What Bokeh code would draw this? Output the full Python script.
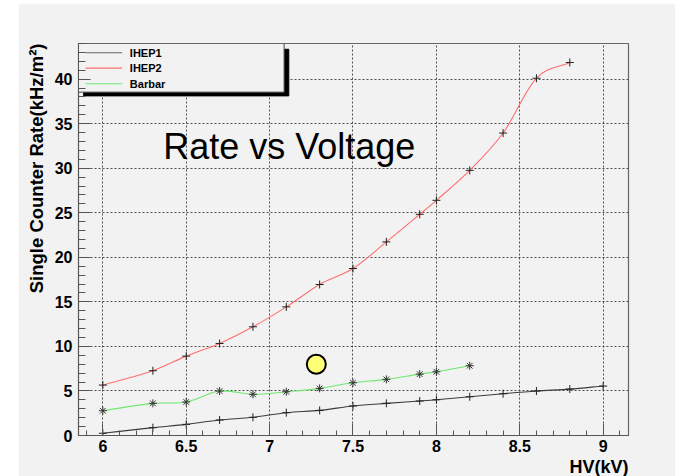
import numpy as np
from bokeh.plotting import figure
from bokeh.models import (Range1d, SingleIntervalTicker, CustomJSTickFormatter,
                          Label, Title, ColumnDataSource, Spacer)
from bokeh.layouts import row, column
from bokeh.embed import file_html
from bokeh.resources import INLINE

# Measured single counter rates (kHz/m^2) versus high voltage (kV)
ihep1_hv = [6.0, 6.3, 6.5, 6.7, 6.9, 7.1, 7.3, 7.5, 7.7, 7.9, 8.0, 8.2, 8.4, 8.6, 8.8, 9.0]
ihep1_rate = [0.25, 0.88, 1.25, 1.74, 2.04, 2.56, 2.82, 3.31, 3.61, 3.87, 4.01, 4.35, 4.69, 4.99, 5.21, 5.55]

ihep2_hv = [6.0, 6.3, 6.5, 6.7, 6.9, 7.1, 7.3, 7.5, 7.7, 7.9, 8.0, 8.2, 8.4, 8.6, 8.8]
ihep2_rate = [5.66, 7.27, 8.91, 10.33, 12.2, 14.44, 16.95, 18.74, 21.73, 24.83, 26.4, 29.76, 33.95, 40.1, 41.87]

barbar_hv = [6.0, 6.3, 6.5, 6.7, 6.9, 7.1, 7.3, 7.5, 7.7, 7.9, 8.0, 8.2]
barbar_rate = [2.78, 3.61, 3.76, 4.99, 4.62, 4.91, 5.29, 5.92, 6.3, 6.89, 7.15, 7.83]

highlight_hv = [7.28]
highlight_rate = [8.0]

series_names = ["IHEP1", "IHEP2", "Barbar"]

BG = "#f2f2f2"
FONT = "Liberation Sans"


def smooth_segments(xs, ys):
    """Cubic Hermite pieces (as Bezier controls) through the measured points."""
    xs = np.asarray(xs, dtype=float)
    ys = np.asarray(ys, dtype=float)
    slopes = np.empty_like(ys)
    slopes[0] = (ys[1] - ys[0]) / (xs[1] - xs[0])
    slopes[-1] = (ys[-1] - ys[-2]) / (xs[-1] - xs[-2])
    slopes[1:-1] = (ys[2:] - ys[:-2]) / (xs[2:] - xs[:-2])
    h = np.diff(xs)
    return ColumnDataSource(dict(
        x0=xs[:-1], y0=ys[:-1], x1=xs[1:], y1=ys[1:],
        cx0=xs[:-1] + h / 3, cy0=ys[:-1] + slopes[:-1] * h / 3,
        cx1=xs[1:] - h / 3, cy1=ys[1:] - slopes[1:] * h / 3,
    ))


p = figure(width=657, height=473,
           x_range=Range1d(5.854, 9.152), y_range=Range1d(0, 44.0),
           output_backend="svg", toolbar_location=None,
           min_border_left=60, min_border_right=47,
           min_border_top=40, min_border_bottom=40,
           background_fill_color=BG, border_fill_color=BG)

p.outline_line_color = "#666666"
p.outline_line_width = 1.2

xticker = SingleIntervalTicker(interval=0.5, num_minor_ticks=5)
yticker = SingleIntervalTicker(interval=5, num_minor_ticks=5)
p.xaxis.ticker = xticker
p.yaxis.ticker = yticker
p.xgrid.ticker = xticker
p.ygrid.ticker = yticker
p.xaxis.formatter = CustomJSTickFormatter(code="return tick.toFixed(1).replace(/\\.0$/, '');")

for ax in (p.xaxis[0], p.yaxis[0]):
    ax.axis_line_color = "#555555"
    ax.major_tick_line_color = "#555555"
    ax.minor_tick_line_color = "#555555"
    ax.major_tick_out = 0
    ax.minor_tick_out = 0
    ax.major_tick_in = 12
    ax.major_label_text_font = FONT
    ax.major_label_text_font_style = "bold"
    ax.major_label_text_font_size = "16px"
    ax.major_label_text_color = "black"
p.xaxis.minor_tick_in = 5
p.yaxis.minor_tick_in = 7
p.xaxis.major_label_standoff = 4
p.yaxis.major_label_standoff = 6

for g in (p.xgrid[0], p.ygrid[0]):
    g.grid_line_color = "#333333"
    g.grid_line_dash = "2 2"
    g.grid_line_width = 1
    g.grid_line_alpha = 0.85

line_colors = ["#3c3c3c", "#ff6e6e", "#6ee86e"]

# curves through the points
p.bezier(x0="x0", y0="y0", x1="x1", y1="y1", cx0="cx0", cy0="cy0", cx1="cx1", cy1="cy1",
         source=smooth_segments(ihep1_hv, ihep1_rate), line_color=line_colors[0], line_width=1.1)
p.bezier(x0="x0", y0="y0", x1="x1", y1="y1", cx0="cx0", cy0="cy0", cx1="cx1", cy1="cy1",
         source=smooth_segments(ihep2_hv, ihep2_rate), line_color=line_colors[1], line_width=1.1)
p.bezier(x0="x0", y0="y0", x1="x1", y1="y1", cx0="cx0", cy0="cy0", cx1="cx1", cy1="cy1",
         source=smooth_segments(barbar_hv, barbar_rate), line_color=line_colors[2], line_width=1.1)

# point markers
p.scatter(ihep1_hv, ihep1_rate, marker="cross", size=8, line_color="#222222", line_width=1)
p.scatter(ihep2_hv, ihep2_rate, marker="cross", size=8, line_color="#222222", line_width=1)
p.scatter(barbar_hv, barbar_rate, marker="asterisk", size=8, line_color="#333333", line_width=1)

# highlighted point
p.scatter(highlight_hv, highlight_rate, marker="circle", size=19,
          fill_color="#ffff77", line_color="black", line_width=2)

# legend box with drop shadow
p.quad(left=[5.885], right=[7.115], bottom=[38.12], top=[43.35],
       fill_color="black", line_color="black")
p.quad(left=[5.854], right=[7.087], bottom=[38.54], top=[44.0],
       fill_color=BG, line_color="#444444", line_width=1)
legend_rows = [42.96, 41.23, 39.48]
for name, color, yy in zip(series_names, ["#666666", "#ff6e6e", "#6ee86e"], legend_rows):
    p.line([5.896, 6.116], [yy, yy], line_color=color, line_width=1.2)
    p.add_layout(Label(x=6.162, y=yy, text=name, text_font=FONT, text_font_style="bold",
                       text_font_size="11px", text_baseline="middle", text_color="black"))

# plot title inside the frame
p.add_layout(Label(x=6.362, y=32.46, text="Rate vs Voltage", text_font=FONT,
                   text_font_size="36px", text_baseline="alphabetic", text_color="black"))

# axis titles, aligned to the far end of each axis
p.add_layout(Title(text="HV(kV)", align="right", text_font=FONT, text_font_style="bold",
                   text_font_size="18px", text_color="black", standoff=0), "below")
p.add_layout(Title(text="Single Counter Rate(kHz/m²)", align="right", text_font=FONT,
                   text_font_style="bold", text_font_size="18.5px", text_color="black",
                   standoff=9), "left")

page = row(Spacer(width=18, height=476),
           column(Spacer(width=657, height=3), p))

open("out.html", "w").write(file_html(page, INLINE))
